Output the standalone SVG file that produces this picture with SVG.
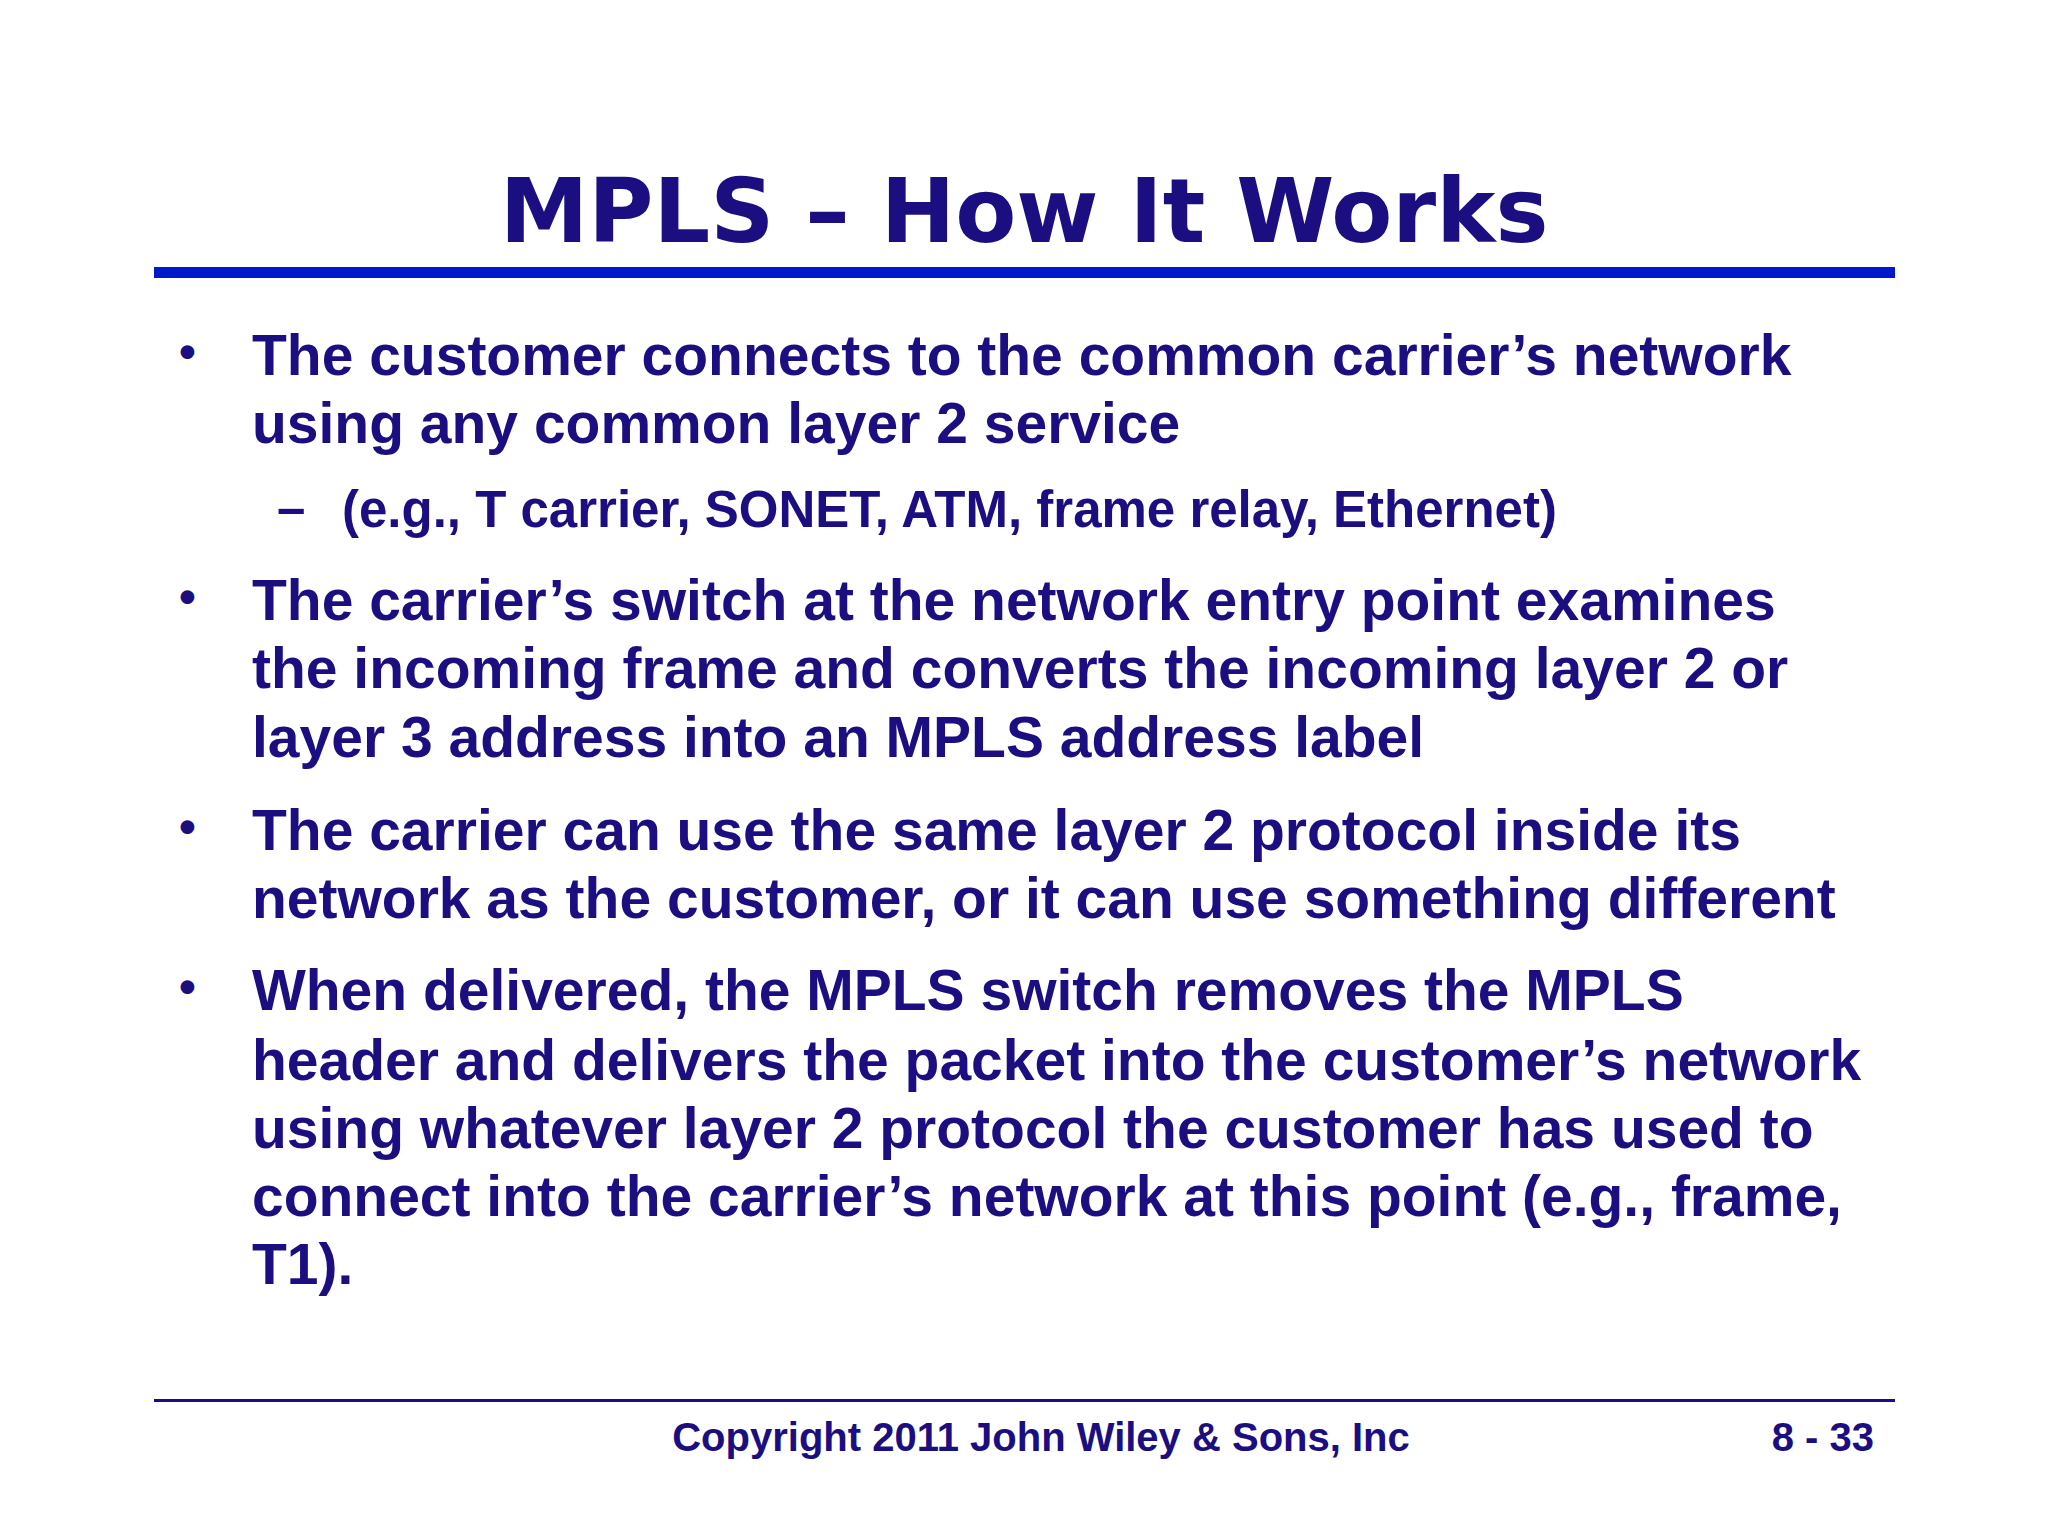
<svg xmlns="http://www.w3.org/2000/svg" width="2048" height="1536" viewBox="0 0 2048 1536">
<style>
text{font-family:"Liberation Sans",Arial,sans-serif;font-weight:bold;fill:#1a0e80}
.b{font-size:57px}
.s{font-size:51px}
.d{font-size:48px}
.f{font-size:40px}
</style>
<rect width="2048" height="1536" fill="#fff"/>
<text x="1024" y="242" text-anchor="middle" style="font-size:89px;font-family:'DejaVu Sans','Liberation Sans',sans-serif">MPLS – How It Works</text>
<rect x="154" y="267" width="1741" height="11" fill="#0019cc"/>
<g>
<text x="179" y="368" class="d">•</text>
<text x="252" y="375" class="b">The customer connects to the common carrier’s network</text>
<text x="252" y="443" class="b">using any common layer 2 service</text>
<text x="277" y="525" class="s">–</text>
<text x="342" y="527" class="s">(e.g., T carrier, SONET, ATM, frame relay, Ethernet)</text>
<text x="179" y="613" class="d">•</text>
<text x="252" y="620" class="b">The carrier’s switch at the network entry point examines</text>
<text x="252" y="688" class="b">the incoming frame and converts the incoming layer 2 or</text>
<text x="252" y="757" class="b">layer 3 address into an MPLS address label</text>
<text x="179" y="843" class="d">•</text>
<text x="252" y="850" class="b">The carrier can use the same layer 2 protocol inside its</text>
<text x="252" y="918" class="b">network as the customer, or it can use something different</text>
<text x="179" y="1003" class="d">•</text>
<text x="252" y="1010" class="b">When delivered, the MPLS switch removes the MPLS</text>
<text x="252" y="1080" class="b">header and delivers the packet into the customer’s network</text>
<text x="252" y="1148" class="b">using whatever layer 2 protocol the customer has used to</text>
<text x="252" y="1216" class="b">connect into the carrier’s network at this point (e.g., frame,</text>
<text x="252" y="1284" class="b">T1).</text>
</g>
<rect x="154" y="1399" width="1741" height="3" fill="#1a0e80"/>
<text x="1041" y="1451" text-anchor="middle" class="f">Copyright 2011 John Wiley &amp; Sons, Inc</text>
<text x="1874" y="1451" text-anchor="end" class="f">8 - 33</text>
</svg>
